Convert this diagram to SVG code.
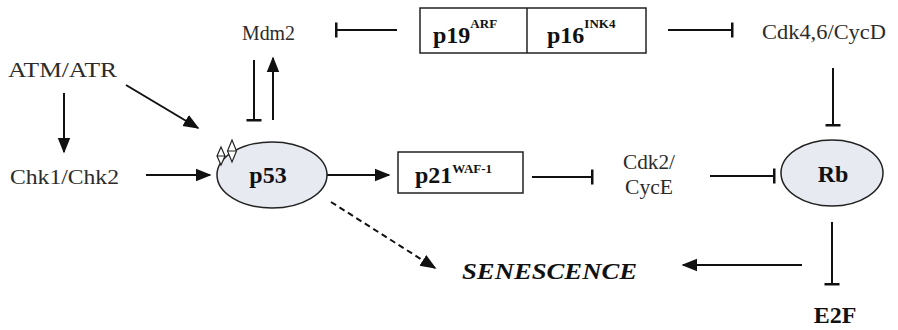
<svg xmlns="http://www.w3.org/2000/svg" width="898" height="330" viewBox="0 0 898 330">
<style>
.t{font-family:"Liberation Serif","Times New Roman",serif;font-size:20px;fill:#2b2b2b}
.b{font-family:"Liberation Serif","Times New Roman",serif;font-weight:bold;font-size:24px;fill:#111}
.sup{font-size:13px}
.ln{stroke:#111;stroke-width:2;fill:none}
.box{fill:#fff;stroke:#222;stroke-width:1.5}
.ell{fill:#e7eaf0;stroke:#222;stroke-width:1.5}
</style>
<defs>
<marker id="arr2" viewBox="0 0 10 10" refX="9" refY="5" markerWidth="16" markerHeight="16" markerUnits="userSpaceOnUse" orient="auto"><path d="M0,1 L10,5 L0,9 z" fill="#111"/></marker>
<marker id="bar" viewBox="0 0 4 20" refX="2" refY="10" markerWidth="3" markerHeight="16" markerUnits="userSpaceOnUse" orient="auto"><rect x="0" y="0" width="4" height="20" fill="#111"/></marker>
</defs>
<g id="connectors">
<line class="ln" x1="397" y1="30" x2="336" y2="30" marker-end="url(#bar)"/>
<line class="ln" x1="668" y1="30" x2="732" y2="30" marker-end="url(#bar)"/>
<line class="ln" x1="833" y1="68" x2="833" y2="125" marker-end="url(#bar)"/>
<line class="ln" x1="832" y1="222" x2="832" y2="284" marker-end="url(#bar)"/>
<line class="ln" x1="802" y1="265" x2="683" y2="265" marker-end="url(#arr2)"/>
<line class="ln" x1="710" y1="176" x2="774" y2="176" marker-end="url(#bar)"/>
<line class="ln" x1="532" y1="177" x2="592" y2="177" marker-end="url(#bar)"/>
<line class="ln" x1="327" y1="175" x2="389" y2="175" marker-end="url(#arr2)"/>
<line class="ln" x1="146" y1="175" x2="210" y2="175" marker-end="url(#arr2)"/>
<line class="ln" x1="64" y1="93" x2="64" y2="152" marker-end="url(#arr2)"/>
<line class="ln" x1="126" y1="85" x2="198" y2="128" marker-end="url(#arr2)"/>
<line class="ln" x1="254" y1="60" x2="254" y2="120" marker-end="url(#bar)"/>
<line class="ln" x1="273" y1="120" x2="273" y2="58" marker-end="url(#arr2)"/>
<line class="ln" x1="331" y1="202" x2="435" y2="268" stroke-dasharray="6,4" marker-end="url(#arr2)"/>
</g>
<g id="mdm2"><text class="t" x="242" y="40" textLength="53" lengthAdjust="spacingAndGlyphs">Mdm2</text></g>
<g id="p19p16">
<rect class="box" x="420" y="8" width="226" height="45"/>
<line x1="527" y1="8" x2="527" y2="53" stroke="#222" stroke-width="1.5"/>
<text class="b" x="433" y="43">p19<tspan class="sup" dy="-15">ARF</tspan></text>
<text class="b" x="547" y="43">p16<tspan class="sup" dy="-15">INK4</tspan></text>
</g>
<g id="cdk46"><text class="t" x="762" y="39" textLength="124" lengthAdjust="spacingAndGlyphs">Cdk4,6/CycD</text></g>
<g id="atm"><text class="t" x="8" y="77" textLength="109" lengthAdjust="spacingAndGlyphs">ATM/ATR</text></g>
<g id="chk"><text class="t" x="10" y="184" textLength="109" lengthAdjust="spacingAndGlyphs">Chk1/Chk2</text></g>
<g id="p53">
<ellipse class="ell" cx="272" cy="175" rx="55" ry="33"/>
<path d="M221,147 L225,156 L221,165 L217,156 Z M217,156 L225,156" fill="#fff" stroke="#222" stroke-width="1.2"/>
<path d="M232,140 L236.5,151 L232,162 L227.5,151 Z M227.5,151 L236.5,151" fill="#fff" stroke="#222" stroke-width="1.2"/>
<text class="b" x="268" y="183" text-anchor="middle" font-size="23">p53</text>
</g>
<g id="p21">
<rect class="box" x="398" y="152" width="125" height="41"/>
<text class="b" x="415" y="183">p21<tspan class="sup" dy="-10">WAF-1</tspan></text>
</g>
<g id="cdk2"><text class="t" x="623" y="169" textLength="52" lengthAdjust="spacingAndGlyphs">Cdk2/</text><text class="t" x="625" y="194" textLength="48" lengthAdjust="spacingAndGlyphs">CycE</text></g>
<g id="rb">
<ellipse class="ell" cx="832" cy="173" rx="51" ry="33"/>
<text class="b" x="833" y="182" text-anchor="middle">Rb</text>
</g>
<g id="senescence"><text class="b" x="462" y="279" font-style="italic" font-size="26" textLength="175" lengthAdjust="spacingAndGlyphs">SENESCENCE</text></g>
<g id="e2f"><text class="b" x="835" y="323" text-anchor="middle" font-size="22">E2F</text></g>
</svg>
